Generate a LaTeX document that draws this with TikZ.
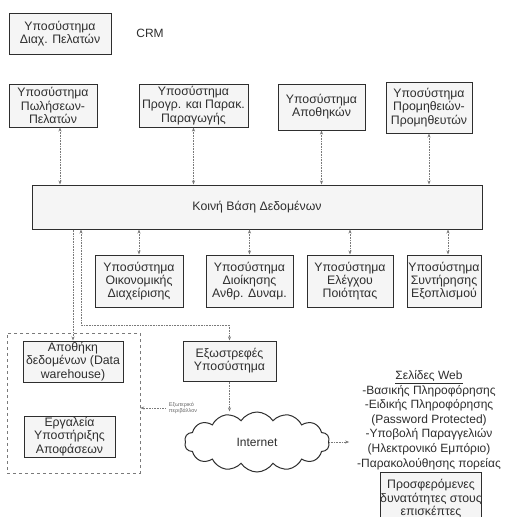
\documentclass[tikz,border=0pt]{standalone}
\usepackage{fontspec}
\setmainfont{Liberation Sans}
\usetikzlibrary{arrows.meta,shapes.symbols}
\definecolor{ink}{HTML}{2E2E2E}
\definecolor{wire}{HTML}{7A7A7A}
\begin{document}
\begin{tikzpicture}[x=1pt,y=-1pt,
  every node/.style={text=ink},
  sysbox/.style={draw=ink,line width=1pt,fill=black!4,align=center,inner sep=0pt,
    font=\fontsize{12.3}{13.2}\selectfont},
  link/.style={draw=wire,densely dotted,line width=0.6pt},
  tip/.style={-{Stealth[length=4pt,width=3pt]}},
  bitip/.style={{Stealth[length=4pt,width=3pt]}-{Stealth[length=4pt,width=3pt]}}]
\clip (0,0) rectangle (509,517);
\fill[white] (0,0) rectangle (509,517);

% CRM subsystem
\node[sysbox,minimum width=102pt,minimum height=41pt] (crm) at (60,33.5) {Υποσύστημα\\Διαχ. Πελατών};
\node[font=\fontsize{12}{13}\selectfont] (crmlbl) at (150,33) {CRM};

% upper row of subsystems
\node[sysbox,minimum width=88pt,minimum height=43pt] (p1) at (53,105.5) {Υποσύστημα\\Πωλήσεων-\\Πελατών};
\node[sysbox,minimum width=109pt,minimum height=43pt] (p2) at (193.5,105.5) {Υποσύστημα\\Προγρ. και Παρακ.\\Παραγωγής};
\node[sysbox,minimum width=87pt,minimum height=46pt] (p3) at (321.5,107) {Υποσύστημα\\Αποθηκών};
\node[sysbox,minimum width=86pt,minimum height=51pt] (p4) at (429,107.5) {Υποσύστημα\\Προμηθειών-\\Προμηθευτών};

% shared database
\node[sysbox,minimum width=450pt,minimum height=44pt] (db) at (257,207) {Κοινή Βάση Δεδομένων};

% lower row of subsystems
\node[sysbox,minimum width=88pt,minimum height=52pt] (r1) at (139,281) {Υποσύστημα\\Οικονομικής\\Διαχείρισης};
\node[sysbox,minimum width=87pt,minimum height=52pt] (r2) at (249.5,281) {Υποσύστημα\\Διοίκησης\\Ανθρ. Δυναμ.};
\node[sysbox,minimum width=86pt,minimum height=52pt] (r3) at (350,281) {Υποσύστημα\\Ελέγχου\\Ποιότητας};
\node[sysbox,minimum width=74pt,minimum height=52pt] (r4) at (444,281) {Υποσύστημα\\Συντήρησης\\Εξοπλισμού};

% decision-support group
\node[draw=wire,dashed,line width=0.6pt,minimum width=133pt,minimum height=140pt] (dw) at (73.5,403) {};
\node[sysbox,minimum width=100pt,minimum height=41pt] (wh) at (73,361.5) {Αποθήκη\\δεδομένων (Data\\warehouse)};
\node[sysbox,minimum width=91pt,minimum height=41pt] (tools) at (69.5,436.5) {Εργαλεία\\Υποστήριξης\\Αποφάσεων};

% outward-facing system and the Internet
\node[sysbox,minimum width=93pt,minimum height=40pt] (ext) at (229.5,361) {Εξωστρεφές\\Υποσύστημα};
\node[cloud,draw=ink,line width=1pt,cloud puffs=14,cloud puff arc=115,aspect=2.4,
  minimum width=145pt,minimum height=60pt,font=\fontsize{12}{13}\selectfont] (net) at (257,442) {Internet};

\node[font=\fontsize{5.5}{6.5}\selectfont,align=left,text=black!60] (env) at (183,408) {Εξωτερικό\\περιβάλλον};

% web pages offered
\node[align=center,font=\fontsize{12}{14.6}\selectfont] (web) at (429,420) {\underline{Σελίδες Web}\\-Βασικής Πληροφόρησης\\-Ειδικής Πληροφόρησης\\(Password Protected)\\-Υποβολή Παραγγελιών\\(Ηλεκτρονικό Εμπόριο)\\-Παρακολούθησης πορείας};
\node[sysbox,minimum width=78pt,minimum height=50pt,anchor=north,text depth=0pt] (offer) at (431,472) {Προσφερόμενες\\δυνατότητες στους\\επισκέπτες};

% links: upper row <-> database
\draw[link,bitip] ([xshift=7pt]p1.south) -- ([xshift=7pt]p1.south |- db.north);
\draw[link,bitip] (p2.south) -- (p2.south |- db.north);
\draw[link,bitip] (p3.south) -- (p3.south |- db.north);
\draw[link,bitip] (p4.south) -- (p4.south |- db.north);

% links: database <-> lower row
\draw[link,bitip] (db.south -| r1.north) -- (r1.north);
\draw[link,bitip] (db.south -| r2.north) -- (r2.north);
\draw[link,bitip] (db.south -| r3.north) -- (r3.north);
\draw[link,bitip] ([xshift=4pt]db.south -| r4.north) -- ([xshift=4pt]r4.north);

% database -> warehouse, database <-> outward system
\draw[link,tip] (db.south -| wh.north) -- (wh.north);
\coordinate (bend) at (81,325);
\draw[link,bitip] (db.south -| bend) -- (bend) -- (bend -| ext.north) -- (ext.north);

% outward system -> Internet -> web pages
\draw[link,tip] (ext.south) -- (ext.south |- net.north);
\draw[link,tip] (net.east) -- ([xshift=20pt]net.east);
\draw[link,tip] (env.west) -- (env.west -| dw.east);
\end{tikzpicture}
\end{document}
